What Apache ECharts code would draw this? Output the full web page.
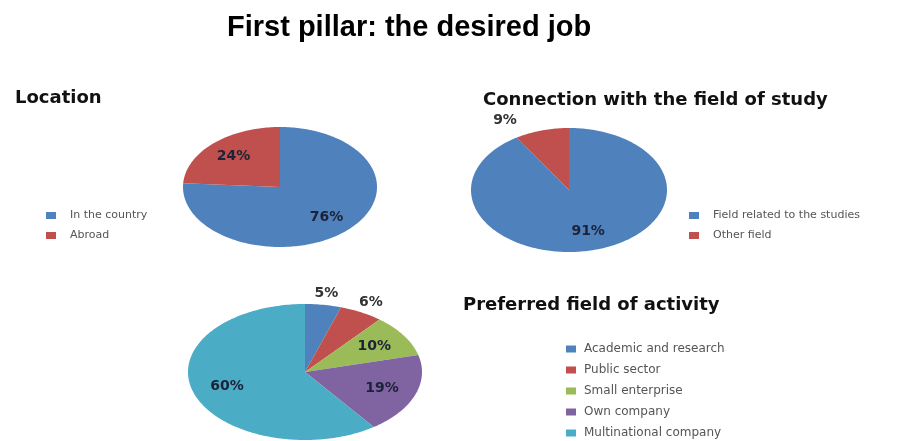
<!DOCTYPE html>
<html>
<head>
<meta charset="utf-8">
<script src="https://cdn.jsdelivr.net/npm/echarts@6/dist/echarts.min.js"></script>
<style>
html,body{margin:0;padding:0;background:#fff}
#main{width:901px;height:441px}
</style>
</head>
<body>
<div id="main"></div>
<script>
var locationNames = ['In the country', 'Abroad'];
var locationValues = [76, 24];
var studyNames = ['Field related to the studies', 'Other field'];
var studyValues = [91, 9];
var activityNames = ['Academic and research', 'Public sector', 'Small enterprise', 'Own company', 'Multinational company'];
var activityValues = [5, 6, 10, 19, 60];

var sliceColors = ['#4f81bd', '#c0504d', '#9bbb59', '#8064a2', '#4bacc6'];

// flat "3d" pies -> ellipses, center + radii in px
var pies = [
	{names: locationNames, values: locationValues, cx: 280, cy: 187, rx: 97, ry: 60},
	{names: studyNames, values: studyValues, cx: 569, cy: 190, rx: 98, ry: 62},
	{names: activityNames, values: activityValues, cx: 305, cy: 372, rx: 117, ry: 68}
];

function ellipsePoint(p, angle, f){
	return [p.cx + p.rx * f * Math.sin(angle), p.cy - p.ry * f * Math.cos(angle)];
}

function sliceRenderer(p, idx){
	return function(params, api){
		var total = 0, before = 0;
		for (var i = 0; i < p.values.length; i++) {
			total += p.values[i];
			if (i < idx) before += p.values[i];
		}
		var v = api.value(0);
		var a0 = before / total * Math.PI * 2;
		var a1 = (before + v) / total * Math.PI * 2;
		var pts = [[p.cx, p.cy]];
		var steps = Math.max(2, Math.ceil((a1 - a0) / 0.02));
		for (var s = 0; s <= steps; s++) {
			pts.push(ellipsePoint(p, a0 + (a1 - a0) * s / steps, 1));
		}
		var outside = v < 10;	// small slices get their label outside
		var lp = ellipsePoint(p, (a0 + a1) / 2, outside ? 1.17 : 0.7);
		if (outside && lp[0] < p.cx) lp[0] -= 32;	// excel pushes the left one further out
		return {
			type: 'group',
			children: [
				{type: 'polygon', shape: {points: pts}, style: {fill: api.visual('color')}},
				{type: 'text', x: lp[0], y: lp[1], z2: 10, style: {
					text: v + '%', fontFamily: 'DejaVu Sans', fontWeight: 'bold', fontSize: 14,
					fill: outside ? '#333' : '#1c2238', align: 'center', verticalAlign: 'middle'
				}}
			]
		};
	};
}

var series = [];
pies.forEach(function(p){
	p.names.forEach(function(name, i){
		series.push({
			type: 'custom',
			name: name,
			coordinateSystem: 'none',
			itemStyle: {color: sliceColors[i]},
			data: [[p.values[i]]],
			renderItem: sliceRenderer(p, i)
		});
	});
});

var subTitle = {fontFamily: 'DejaVu Sans', fontWeight: 'bold', fontSize: 18, color: '#111'};
var legendText = {fontFamily: 'DejaVu Sans', fontSize: 11, color: '#555', padding: [0, 0, 0, 9]};

function legendAt(names, left, top, text){
	return {data: names, orient: 'vertical', left: left, top: top, padding: 0, icon: 'rect',
		itemWidth: 10, itemHeight: 7, itemGap: 9, textStyle: text};
}

var chart = echarts.init(document.getElementById('main'));
chart.setOption({
	backgroundColor: '#fff',
	animation: false,
	title: [
		{text: 'First pillar: the desired job', left: 227, top: 13, padding: 0,
			textStyle: {fontFamily: 'Liberation Sans', fontWeight: 'bold', fontSize: 29, color: '#000'}},
		{text: 'Location', left: 15, top: 89, padding: 0, textStyle: subTitle},
		{text: 'Connection with the field of study', left: 483, top: 91, padding: 0, textStyle: subTitle},
		{text: 'Preferred field of activity', left: 463, top: 296, padding: 0, textStyle: subTitle}
	],
	legend: [
		legendAt(locationNames, 46, 210, legendText),
		legendAt(studyNames, 689, 210, legendText),
		legendAt(activityNames, 566, 343, {fontFamily: 'DejaVu Sans', fontSize: 12, color: '#555', padding: [0, 0, 0, 3]})
	],
	series: series
});
</script>
</body>
</html>
